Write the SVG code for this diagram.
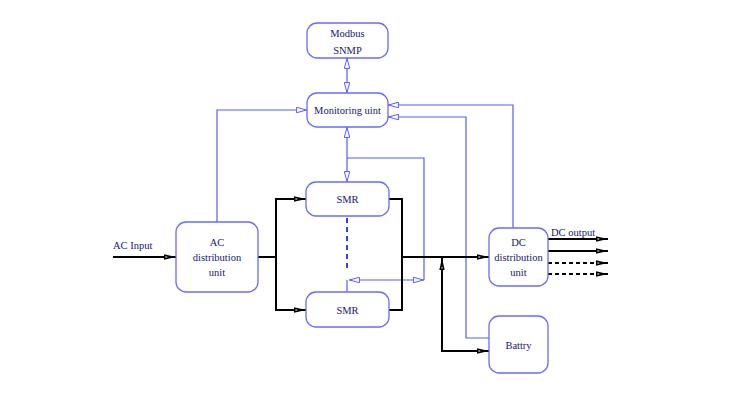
<svg xmlns="http://www.w3.org/2000/svg" width="750" height="400" viewBox="0 0 750 400">
<defs>
<marker id="ba" viewBox="0 0 10 6" refX="10" refY="3" markerWidth="11" markerHeight="6.6" markerUnits="userSpaceOnUse" orient="auto-start-reverse">
<path d="M0.5,0.5 L9.5,3 L0.5,5.5 Z" fill="#fff" stroke="#5a5aff" stroke-width="0.9"/>
</marker>
<marker id="ka" viewBox="0 0 12 6" refX="12" refY="3" markerWidth="12" markerHeight="6" markerUnits="userSpaceOnUse" orient="auto-start-reverse">
<path d="M0,0.3 L12,3 L0,5.7 Z" fill="#000"/>
<path d="M1.5,2.3 L3.5,2.8 L3.5,3.2 L1.5,3.7 Z" fill="#fff"/>
</marker>
</defs>
<style>
.box{fill:#fff;stroke:#6a6aff;stroke-width:1.3}
.t{font-family:"Liberation Serif","Times New Roman",serif;font-size:10.5px;fill:#161670;text-anchor:middle}
.l{font-family:"Liberation Serif","Times New Roman",serif;font-size:10.5px;fill:#161670}
.b{fill:none;stroke:#5a5aff;stroke-width:1.2}
.k{fill:none;stroke:#000;stroke-width:2}
.kd{fill:none;stroke:#000;stroke-width:2;stroke-dasharray:4,3}
</style>
<rect width="750" height="400" fill="#fff"/>
<g id="connectors">
<path class="b" d="M347,58 V93" marker-start="url(#ba)" marker-end="url(#ba)"/>
<path class="b" d="M347,127 V182" marker-start="url(#ba)" marker-end="url(#ba)"/>
<path class="b" d="M217,222 V110 H307" marker-end="url(#ba)"/>
<path class="b" d="M513,228 V105 H388" marker-end="url(#ba)"/>
<path class="b" d="M489,338 H466 V117 H388" marker-end="url(#ba)"/>
<path class="b" d="M347,158 H424 V280"/>
<path class="b" d="M349,280 H424" marker-start="url(#ba)" marker-end="url(#ba)"/>
<path class="b" d="M347,280 V292"/>
<path d="M347,218 V272" fill="none" stroke="#3a3aff" stroke-width="2" stroke-dasharray="5,4"/>
<path class="k" d="M113,257 H176" marker-end="url(#ka)"/>
<path class="k" d="M258,257 H276"/>
<path class="k" d="M276,199 V310"/>
<path class="k" d="M275,199 H306" marker-end="url(#ka)"/>
<path class="k" d="M275,310 H306" marker-end="url(#ka)"/>
<path class="k" d="M389,199 H402 V310 H389"/>
<path class="k" d="M402,257 H489" marker-end="url(#ka)"/>
<path class="k" d="M442,258 V351 H489" marker-start="url(#ka)" marker-end="url(#ka)"/>
<path class="k" d="M548,239 H608" marker-end="url(#ka)"/>
<path class="k" d="M548,251 H608" marker-end="url(#ka)"/>
<path class="kd" d="M548,263 H608" marker-end="url(#ka)"/>
<path class="kd" d="M548,274 H608" marker-end="url(#ka)"/>
<text class="l" x="113" y="249">AC Input</text>
<text class="l" x="551" y="236">DC output</text>
</g>
<g id="modbus">
<rect class="box" x="307" y="23" width="81" height="35" rx="10"/>
<text class="t" x="347.5" y="37">Modbus</text>
<text class="t" x="347.5" y="54">SNMP</text>
</g>
<g id="monitoring">
<rect class="box" x="307" y="93" width="81" height="34" rx="10"/>
<text class="t" x="347.5" y="114">Monitoring uint</text>
</g>
<g id="smr1">
<rect class="box" x="306" y="182" width="83" height="34" rx="10"/>
<text class="t" x="347.5" y="203">SMR</text>
</g>
<g id="smr2">
<rect class="box" x="306" y="292" width="83" height="35" rx="10"/>
<text class="t" x="347.5" y="314">SMR</text>
</g>
<g id="ac">
<rect class="box" x="176" y="222" width="82" height="70" rx="10"/>
<text class="t" x="217" y="246">AC</text>
<text class="t" x="217" y="261">distribution</text>
<text class="t" x="217" y="276">unit</text>
</g>
<g id="dc">
<rect class="box" x="489" y="228" width="59" height="58" rx="10"/>
<text class="t" x="518.5" y="246">DC</text>
<text class="t" x="518.5" y="261">distribution</text>
<text class="t" x="518.5" y="276">unit</text>
</g>
<g id="battery">
<rect class="box" x="489" y="316" width="59" height="57" rx="10"/>
<text class="t" x="518.5" y="349">Battry</text>
</g>
</svg>
